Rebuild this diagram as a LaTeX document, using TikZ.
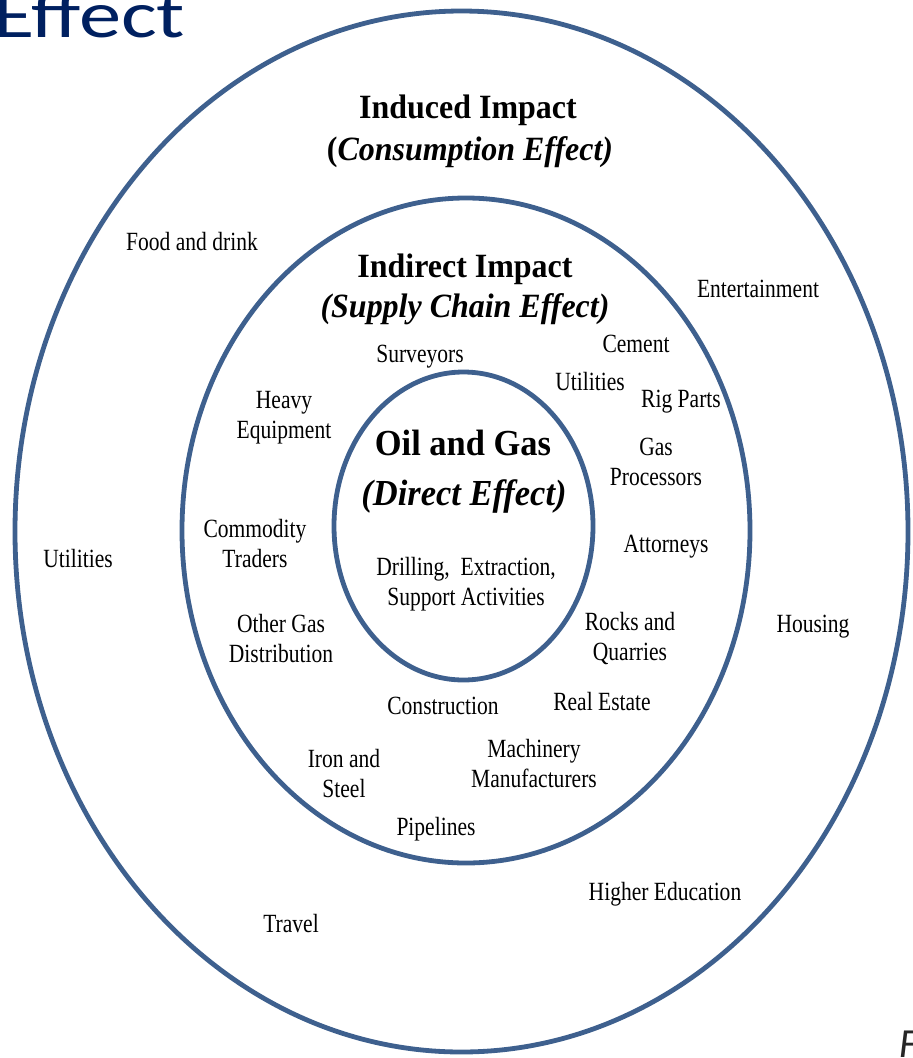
\documentclass[tikz,border=0pt]{standalone}
\usepackage{fontspec}
\setmainfont{Liberation Serif}
\newfontfamily\titlefont{Carlito}
\definecolor{ringcol}{RGB}{62,96,142}
\definecolor{navy}{RGB}{0,32,96}
\newcommand{\bodybox}[1]{\scalebox{0.82}[1]{\begin{tabular}[t]{@{}c@{}}#1\end{tabular}}}
\newcommand{\headbox}[1]{\scalebox{0.94}[1]{#1}}
\begin{document}
\begin{tikzpicture}[x=0.75pt,y=-0.75pt,
  ring/.style={draw=ringcol, line width=3.6pt},
  lbl/.style={anchor=base, inner sep=0pt, font=\fontsize{19.7}{22.5}\selectfont},
  head/.style={anchor=base, inner sep=0pt, font=\fontsize{25.5}{30}\selectfont\bfseries},
  big/.style={anchor=base, inner sep=0pt, font=\fontsize{27.5}{32}\selectfont\bfseries}]
\useasboundingbox (0,0) rectangle (913,1058);
% rings
\draw[ring] (461.5,531.5) ellipse [x radius=446.5, y radius=520.5];
\draw[ring] (466,530.5) ellipse [x radius=284, y radius=332.5];
\draw[ring] (463.5,526) ellipse [x radius=129.5, y radius=154];
% slide fragments
\node[anchor=base west, inner sep=0pt, text=navy, font=\titlefont\fontsize{49.5}{50}\selectfont] (title) at (-7,37) {\scalebox{1.28}[1]{Effect}};
\node[anchor=base west, inner sep=0pt, text=black!85, font=\titlefont\itshape\fontsize{31}{32}\selectfont] (fig) at (899,1057) {F};
% headings
\node[head] (induced) at (468,118) {\headbox{Induced Impact}};
\node[head] (inducedsub) at (470,160) {\headbox{(\itshape Consumption Effect)}};
\node[head] (indirect) at (465,277) {\headbox{Indirect Impact}};
\node[head] (indirectsub) at (465,317) {\headbox{\itshape (Supply Chain Effect)}};
\node[big] (oil) at (463,455) {\headbox{Oil and Gas}};
\node[big] (oilsub) at (464,505) {\headbox{\itshape (Direct Effect)}};
\node[lbl] (drill) at (466,575) {\bodybox{Drilling,\ \ Extraction,\\Support Activities}};
% outer ring labels
\node[lbl] (food) at (192,250) {\bodybox{Food and drink}};
\node[lbl] (ent) at (758,297) {\bodybox{Entertainment}};
\node[lbl] (utilout) at (78,567) {\bodybox{Utilities}};
\node[lbl] (housing) at (813,632) {\bodybox{Housing}};
\node[lbl] (higher) at (665,900) {\bodybox{Higher Education}};
\node[lbl] (travel) at (291,932) {\bodybox{Travel}};
% middle ring labels
\node[lbl] (surv) at (420,362) {\bodybox{Surveyors}};
\node[lbl] (cement) at (636,352) {\bodybox{Cement}};
\node[lbl] (utilmid) at (590,390) {\bodybox{Utilities}};
\node[lbl] (rig) at (681,407) {\bodybox{Rig Parts}};
\node[lbl] (gas) at (656,455) {\bodybox{Gas\\Processors}};
\node[lbl] (att) at (666,552) {\bodybox{Attorneys}};
\node[lbl] (rocks) at (630,630) {\bodybox{Rocks and\\Quarries}};
\node[lbl] (heavy) at (284,408) {\bodybox{Heavy\\Equipment}};
\node[lbl] (comm) at (255,537) {\bodybox{Commodity\\Traders}};
\node[lbl] (other) at (281,632) {\bodybox{Other Gas\\Distribution}};
\node[lbl] (constr) at (443,714) {\bodybox{Construction}};
\node[lbl] (real) at (602,710) {\bodybox{Real Estate}};
\node[lbl] (iron) at (344,767) {\bodybox{Iron and\\Steel}};
\node[lbl] (mach) at (534,757) {\bodybox{Machinery\\Manufacturers}};
\node[lbl] (pipe) at (436,835) {\bodybox{Pipelines}};
\end{tikzpicture}
\end{document}
